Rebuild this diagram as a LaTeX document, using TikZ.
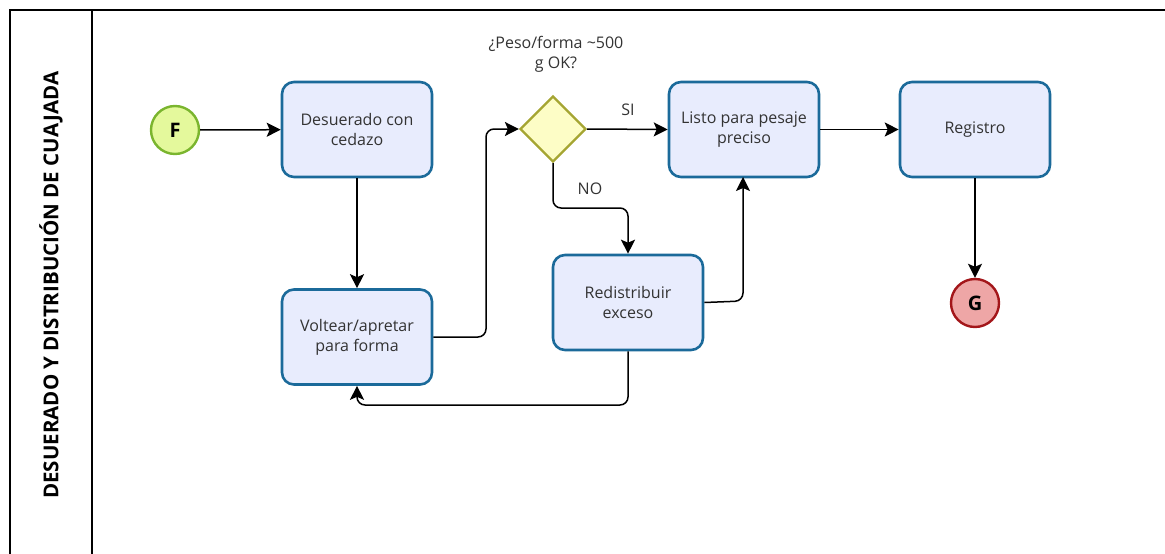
\documentclass[tikz,border=0pt]{standalone}
\usepackage{fontspec}
\setmainfont{Open Sans}
\usetikzlibrary{arrows.meta,shapes.geometric}
\definecolor{taskfill}{HTML}{E8ECFD}
\definecolor{taskline}{HTML}{1B6A9A}
\definecolor{textgray}{HTML}{333333}
\definecolor{startfill}{HTML}{E4F99C}
\definecolor{startline}{HTML}{7AB52E}
\definecolor{endfill}{HTML}{EEA6A6}
\definecolor{endline}{HTML}{A3161A}
\definecolor{gatefill}{HTML}{FDFDC6}
\definecolor{gateline}{HTML}{A5A532}
\tikzset{
  task/.style={draw=taskline, fill=taskfill, line width=2.6pt, rounded corners=12pt,
    minimum width=150pt, minimum height=95pt, align=center, text=textgray,
    font=\fontsize{16}{20}\selectfont, inner sep=4pt},
  startev/.style={circle, draw=startline, fill=startfill, line width=2.4pt,
    minimum size=48pt, inner sep=0pt, font=\fontsize{20}{22}\selectfont\bfseries},
  endev/.style={circle, draw=endline, fill=endfill, line width=2.4pt,
    minimum size=48pt, inner sep=0pt, font=\fontsize{20}{22}\selectfont\bfseries},
  gate/.style={diamond, draw=gateline, fill=gatefill, line width=2.2pt,
    minimum width=66pt, minimum height=66pt, inner sep=0pt},
  flow/.style={draw=black, line width=1.5pt, rounded corners=8pt,
    -{Stealth[length=14pt,width=14pt,inset=3pt]}},
  lbl/.style={text=textgray, font=\fontsize{16}{20}\selectfont, align=center},
  lane/.style={draw=black, line width=1.8pt}
}
\begin{document}
\begin{tikzpicture}[x=1pt,y=-1pt]
\useasboundingbox (0,0) rectangle (1165,554);
% pool and lane header
\draw[lane] (10,556) -- (10,10) -- (1167,10);
\draw[lane] (92,10) -- (92,556);
\node[rotate=90, font=\fontsize{20.5}{24}\selectfont\bfseries] (title) at (51,285)
  {DESUERADO Y DISTRIBUCIÓN DE CUAJADA};
% events, tasks and gateway
\node[startev] (F) at (175,130) {F};
\node[task] (desuerado) at (357,129.5) {Desuerado con\\cedazo};
\node[task] (voltear) at (357,337) {Voltear/apretar\\para forma};
\node[gate] (peso) at (553,129) {};
\node[lbl] (pregunta) at (556,54) {¿Peso/forma \textasciitilde500\\g OK?};
\node[task] (listo) at (744,129.5) {Listo para pesaje\\preciso};
\node[task] (redistribuir) at (628,302.5) {Redistribuir\\exceso};
\node[task] (registro) at (975,129.5) {Registro};
\node[endev] (G) at (975,303) {G};
% sequence flows
\draw[flow] (F) -- (desuerado);
\draw[flow] (desuerado) -- (voltear);
\draw[flow] (voltear.east) -- (486,337) -- (486,129) -- (peso.west);
\draw[flow] (peso.east) -- (listo.west);
\node[lbl] (si) at (628,110) {SI};
\draw[flow] (peso.south) -- (553,208) -- (628,208) -- (redistribuir.north);
\node[lbl] (no) at (590,189) {NO};
\draw[flow] (redistribuir.east) -- (743,301) -- (743,177);
\draw[flow] (redistribuir.south) -- (628,405) -- (357,405) -- (voltear.south);
\draw[flow] (listo) -- (registro);
\draw[flow] (registro) -- (G);
\end{tikzpicture}
\end{document}
